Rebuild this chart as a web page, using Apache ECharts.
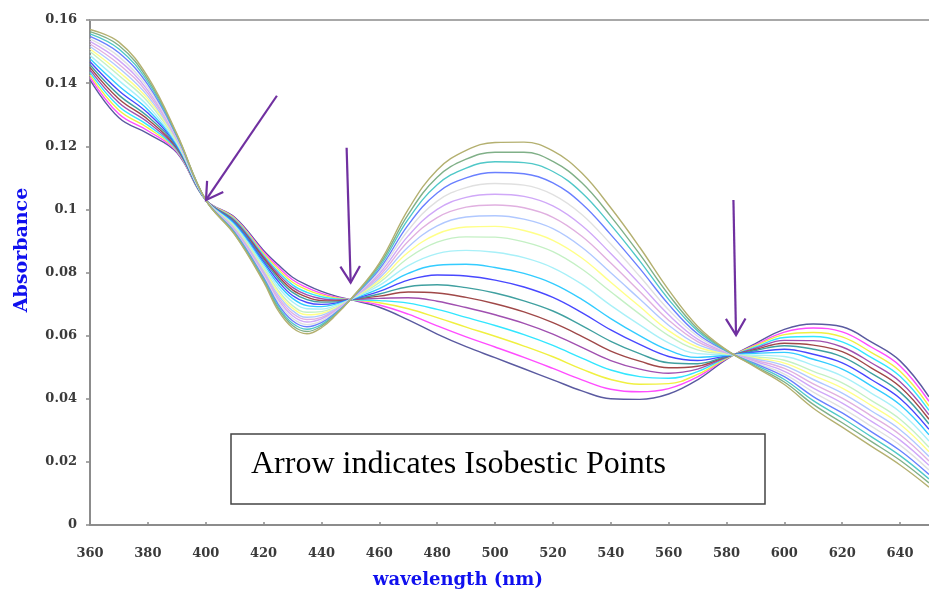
<!DOCTYPE html>
<html><head><meta charset="utf-8">
<script src="https://cdn.jsdelivr.net/npm/echarts/dist/echarts.min.js"></script>
<style>html,body{margin:0;padding:0;background:#fff}#c{width:929px;height:594px}</style>
</head><body><div id="c"></div>
<script>
const wavelengths = [360,370,380,390,400,410,420,425,430,435,440,445,450,460,470,480,490,500,510,520,530,540,550,560,570,580,590,600,610,620,630,640,650];

const s01 = [.1410,.1290,.1240,.1180,.1030,.0975,.0870,.0825,.0785,.0760,.0740,.0725,.0714,.0690,.0650,.0605,.0565,.0530,.0495,.0460,.0425,.0400,.0398,.0415,.0460,.0525,.0575,.0620,.0637,.0628,.0580,.0520,.0406];
const s02 = [.1418,.1302,.1249,.1183,.1030,.0972,.0865,.0818,.0777,.0752,.0734,.0722,.0714,.0697,.0668,.0631,.0596,.0564,.0531,.0496,.0460,.0430,.0422,.0432,.0469,.0527,.0571,.0611,.0624,.0612,.0564,.0504,.0392];
const s03 = [.1426,.1314,.1258,.1186,.1030,.0970,.0860,.0811,.0769,.0745,.0729,.0719,.0714,.0704,.0685,.0657,.0627,.0598,.0567,.0533,.0494,.0461,.0446,.0448,.0477,.0528,.0568,.0603,.0610,.0596,.0547,.0487,.0377];
const s04 = [.1434,.1326,.1267,.1189,.1030,.0967,.0855,.0803,.0761,.0737,.0723,.0716,.0714,.0711,.0703,.0683,.0658,.0632,.0603,.0569,.0529,.0491,.0470,.0465,.0486,.0530,.0564,.0594,.0597,.0580,.0531,.0471,.0363];
const s05 = [.1442,.1338,.1276,.1192,.1030,.0964,.0850,.0796,.0753,.0729,.0717,.0713,.0714,.0718,.0720,.0709,.0689,.0666,.0639,.0605,.0563,.0521,.0494,.0481,.0494,.0531,.0560,.0585,.0584,.0564,.0514,.0454,.0349];
const s06 = [.1450,.1350,.1285,.1195,.1030,.0961,.0845,.0789,.0745,.0722,.0711,.0710,.0714,.0725,.0738,.0735,.0721,.0701,.0675,.0641,.0598,.0551,.0519,.0498,.0503,.0533,.0556,.0576,.0570,.0549,.0498,.0438,.0335];
const s07 = [.1458,.1362,.1294,.1198,.1030,.0959,.0840,.0782,.0737,.0714,.0706,.0707,.0714,.0732,.0755,.0761,.0752,.0735,.0710,.0678,.0632,.0582,.0543,.0514,.0511,.0534,.0553,.0568,.0557,.0533,.0481,.0421,.0320];
const s08 = [.1468,.1376,.1305,.1202,.1030,.0955,.0834,.0773,.0727,.0705,.0699,.0703,.0714,.0740,.0776,.0792,.0789,.0776,.0754,.0721,.0673,.0618,.0572,.0534,.0521,.0536,.0548,.0557,.0541,.0514,.0461,.0401,.0303];
const s09 = [.1477,.1391,.1316,.1205,.1030,.0952,.0828,.0764,.0718,.0695,.0692,.0700,.0714,.0749,.0797,.0823,.0826,.0816,.0797,.0765,.0715,.0654,.0600,.0554,.0531,.0538,.0544,.0547,.0525,.0494,.0441,.0381,.0286];
const s10 = [.1488,.1408,.1328,.1209,.1030,.0948,.0821,.0754,.0707,.0685,.0684,.0696,.0714,.0759,.0822,.0860,.0870,.0864,.0847,.0815,.0763,.0696,.0634,.0577,.0543,.0540,.0538,.0534,.0506,.0472,.0418,.0358,.0266];
const s11 = [.1500,.1424,.1341,.1214,.1030,.0944,.0814,.0744,.0695,.0674,.0676,.0691,.0714,.0768,.0846,.0896,.0913,.0912,.0897,.0866,.0811,.0739,.0668,.0600,.0555,.0542,.0533,.0522,.0487,.0450,.0395,.0335,.0246];
const s12 = [.1508,.1436,.1350,.1217,.1030,.0941,.0809,.0737,.0687,.0666,.0670,.0688,.0714,.0775,.0864,.0922,.0944,.0946,.0933,.0902,.0846,.0769,.0692,.0616,.0564,.0543,.0529,.0513,.0474,.0434,.0379,.0319,.0232];
const s13 = [.1516,.1448,.1359,.1220,.1030,.0939,.0804,.0729,.0679,.0658,.0664,.0685,.0714,.0782,.0881,.0948,.0976,.0980,.0969,.0939,.0880,.0799,.0716,.0633,.0572,.0545,.0526,.0505,.0461,.0418,.0362,.0302,.0217];
const s14 = [.1524,.1460,.1368,.1223,.1030,.0936,.0799,.0722,.0671,.0651,.0658,.0682,.0714,.0789,.0899,.0974,.1007,.1014,.1005,.0975,.0915,.0830,.0740,.0649,.0581,.0546,.0522,.0496,.0447,.0402,.0346,.0286,.0203];
const s15 = [.1532,.1472,.1377,.1226,.1030,.0933,.0794,.0715,.0663,.0643,.0653,.0679,.0714,.0796,.0916,.1000,.1038,.1048,.1041,.1011,.0949,.0860,.0764,.0666,.0589,.0548,.0518,.0487,.0434,.0386,.0329,.0269,.0189];
const s16 = [.1540,.1484,.1386,.1229,.1030,.0930,.0789,.0708,.0655,.0635,.0647,.0676,.0714,.0803,.0934,.1026,.1069,.1082,.1077,.1047,.0984,.0890,.0788,.0682,.0598,.0549,.0514,.0478,.0421,.0370,.0313,.0253,.0174];
const s17 = [.1548,.1496,.1395,.1232,.1030,.0928,.0784,.0700,.0647,.0628,.0641,.0673,.0714,.0810,.0951,.1052,.1100,.1117,.1113,.1084,.1018,.0920,.0813,.0699,.0606,.0551,.0511,.0470,.0407,.0355,.0296,.0236,.0160];
const s18 = [.1556,.1508,.1404,.1235,.1030,.0925,.0779,.0693,.0639,.0620,.0635,.0670,.0714,.0817,.0969,.1078,.1131,.1151,.1148,.1120,.1053,.0951,.0837,.0715,.0615,.0552,.0507,.0461,.0394,.0339,.0280,.0220,.0146];
const s19 = [.1563,.1519,.1412,.1237,.1030,.0922,.0775,.0687,.0632,.0613,.0630,.0668,.0714,.0824,.0984,.1102,.1159,.1181,.1181,.1152,.1084,.0978,.0858,.0730,.0622,.0554,.0503,.0453,.0382,.0324,.0265,.0205,.0133];
const s20 = [.1570,.1530,.1420,.1240,.1030,.0920,.0770,.0680,.0625,.0606,.0625,.0665,.0714,.0830,.1000,.1125,.1187,.1212,.1213,.1185,.1115,.1005,.0880,.0745,.0630,.0555,.0500,.0445,.0370,.0310,.0250,.0190,.0120];

const allSeries = [s01,s02,s03,s04,s05,s06,s07,s08,s09,s10,s11,s12,s13,s14,s15,s16,s17,s18,s19,s20];
const seriesColors = ['#5a5aa0','#ff4dff','#f0f040','#33e6ff','#a050b0','#a04848','#40a0a0','#4848ff','#33ccff','#a8f0f8',
                      '#c4f0c4','#ffff88','#b0c8ff','#e0b0e0','#d0a8f8','#e0e0e0','#6a80ff','#50c8c8','#80b088','#b4b070'];

const xMin = 360, xMax = 650, xStep = 20;
const yMin = 0, yMax = 0.16, yStep = 0.02;

// arrows pointing at the isosbestic points: [start, tip] in data units
const arrows = [
  [[424.6, 0.136], [400.1, 0.103]],
  [[448.7, 0.1195], [450.1, 0.0768]],
  [[582.4, 0.1030], [583.3, 0.0602]]
];
const noteText = 'Arrow indicates Isobestic Points';
const xTitle = 'wavelength (nm)';
const yTitle = 'Absorbance';

const chart = echarts.init(document.getElementById('c'));
const labelFont = {fontFamily: 'DejaVu Serif', fontWeight: 'bold', fontSize: 13, color: '#3a3a3a'};

const option = {
  animation: false,
  backgroundColor: '#fff',
  grid: {left: 90, right: 0, top: 20, bottom: 69, containLabel: false},
  xAxis: [{
    type: 'value', min: xMin, max: xMax, interval: xStep,
    axisLine: {show: true, lineStyle: {color: '#8c8c8c', width: 2}},
    axisTick: {show: true, inside: true, length: 3, lineStyle: {color: '#8c8c8c', width: 1.5}},
    axisLabel: Object.assign({margin: 22, showMaxLabel: false}, labelFont),
    splitLine: {show: false}
  }, {
    type: 'value', position: 'top', min: xMin, max: xMax,
    axisLine: {show: true, onZero: false, lineStyle: {color: '#a8a8a8', width: 2}},
    axisTick: {show: false}, axisLabel: {show: false}, splitLine: {show: false}
  }],
  yAxis: {
    type: 'value', min: yMin, max: yMax, interval: yStep,
    axisLine: {show: true, lineStyle: {color: '#8c8c8c', width: 2}},
    axisTick: {show: true, inside: false, length: 4, lineStyle: {color: '#8c8c8c', width: 1.5}},
    axisLabel: Object.assign({margin: 13}, labelFont),
    splitLine: {show: false}
  },
  series: allSeries.map((arr, i) => ({
    type: 'line', xAxisIndex: 0, smooth: 0.4, symbol: 'none',
    lineStyle: {width: 1.4, color: seriesColors[i]},
    data: arr.map((v, k) => [wavelengths[k], v])
  }))
};
chart.setOption(option);

// annotations
const purple = '#7030A0';
const g = [];
arrows.forEach(([s, t]) => {
  const p0 = chart.convertToPixel({gridIndex: 0}, s);
  const p1 = chart.convertToPixel({gridIndex: 0}, t);
  const dx = p1[0] - p0[0], dy = p1[1] - p0[1];
  const L = Math.hypot(dx, dy), ux = dx / L, uy = dy / L;
  const arm = 19, ang = 31 * Math.PI / 180;
  const rot = a => [ux * Math.cos(a) - uy * Math.sin(a), ux * Math.sin(a) + uy * Math.cos(a)];
  const r1 = rot(ang), r2 = rot(-ang);
  g.push({type: 'polyline', z: 100, shape: {points: [p0, p1]}, style: {stroke: purple, lineWidth: 2.2, fill: null}});
  g.push({type: 'polyline', z: 100, shape: {points: [[p1[0] - arm * r1[0], p1[1] - arm * r1[1]], p1, [p1[0] - arm * r2[0], p1[1] - arm * r2[1]]]},
          style: {stroke: purple, lineWidth: 2.2, fill: null}});
});
g.push({type: 'rect', z: 90, shape: {x: 231, y: 434, width: 534, height: 70},
        style: {fill: '#fff', stroke: '#444', lineWidth: 1.5}});
g.push({type: 'text', z: 91, x: 251, y: 465,
        style: {text: noteText, font: '32px "Liberation Serif"', fill: '#000', textAlign: 'left', textVerticalAlign: 'middle'}});
g.push({type: 'text', z: 91, x: 458, y: 580,
        style: {text: xTitle, font: 'bold 18px "DejaVu Serif"', fill: '#1010ee', textAlign: 'center', textVerticalAlign: 'middle'}});
g.push({type: 'text', z: 91, x: 22, y: 250, rotation: Math.PI / 2,
        style: {text: yTitle, font: 'bold 19px "DejaVu Serif"', fill: '#1010ee', textAlign: 'center', textVerticalAlign: 'middle'}});
chart.setOption({graphic: g});
</script></body></html>
